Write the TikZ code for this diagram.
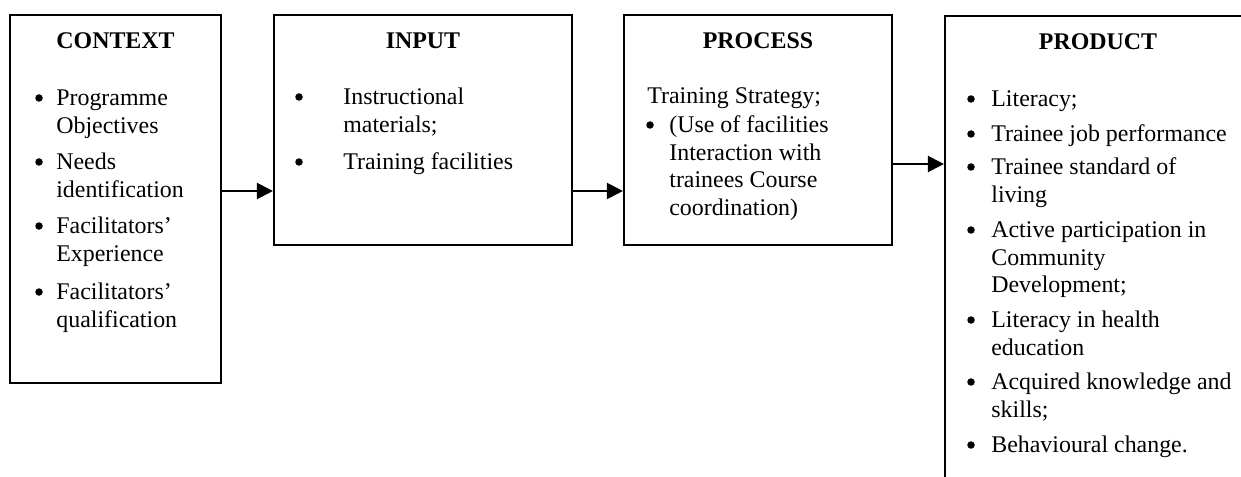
\documentclass[tikz,border=0pt]{standalone}
\usepackage{fontspec}
\setmainfont{Liberation Serif}
\usetikzlibrary{arrows.meta, positioning}

\begin{document}
\begin{tikzpicture}[
		x=0.2mm, y=-0.2mm,
		font=\fontsize{13.6}{15.7}\selectfont,
		box/.style={draw, rectangle, line width=1.2pt},
		title/.style={font=\fontsize{13.6}{15.7}\selectfont\bfseries, anchor=base, inner sep=0pt},
		item/.style={anchor=north west, align=left, inner sep=0pt},
		dot/.style={circle, fill, inner sep=0pt, minimum size=1.5mm},
		flow/.style={-{Triangle[length=3.2mm, width=3.2mm]}, line width=1.2pt},
		]
		
		\clip[use as bounding box] (0,0) rectangle (1241,477);
		
		% Boxes
		\node[box, minimum width=42.2mm, minimum height=73.6mm] (context) at (115.5,199) {};
		\node[box, minimum width=59.6mm, minimum height=46mm] (input) at (423,130) {};
		\node[box, minimum width=53.6mm, minimum height=46mm] (process) at (758,130) {};
		\node[box, minimum width=61.2mm, minimum height=96.8mm] (product) at (1098,258) {};
		
		% Titles
		\node[title] (contexttitle) at (context.north |- 0,49) {CONTEXT};
		\node[title] (inputtitle) at (input.north |- 0,49) {INPUT};
		\node[title] (processtitle) at (process.north |- 0,49) {PROCESS};
		\node[title] (producttitle) at (product.north |- 0,50) {PRODUCT};
		
		% Context items
		\foreach \txt/\yy [count=\i] in {{Programme\\Objectives}/86, {Needs\\identification}/150, {Facilitators'\\Experience}/214, {Facilitators'\\qualification}/280}{
			\node[item] (ctxitem\i) at (56,\yy) {\strut\txt};
			\node[dot] (ctxdot\i) at ([shift={(-17,12)}]ctxitem\i.north west) {};
		}
		
		% Input items
		\foreach \txt/\yy [count=\i] in {{Instructional\\materials;}/85, {Training facilities}/150}{
			\node[item] (initem\i) at (343,\yy) {\strut\txt};
			\node[dot] (indot\i) at ([shift={(-44,12)}]initem\i.north west) {};
		}
		
		% Process items
		\node[item] (procstrategy) at (647,84) {\strut Training Strategy;};
		\node[item] (procitem) at (669,113) {\strut(Use of facilities\\Interaction with\\trainees Course\\coordination)};
		\node[dot] (procdot) at ([shift={(-19,12)}]procitem.north west) {};
		
		% Product items
		\foreach \txt/\yy [count=\i] in {{Literacy;}/87, {Trainee job performance}/122, {Trainee standard of\\living}/155, {Active participation in\\Community\\Development;}/218, {Literacy in health\\education}/308, {Acquired knowledge and\\skills;}/370, {Behavioural change.}/433}{
			\node[item] (proditem\i) at (991,\yy) {\strut\txt};
			\node[dot] (proddot\i) at ([shift={(-20,12)}]proditem\i.north west) {};
		}
		
		% Arrows
		\coordinate (lowline) at (0,191);
		\coordinate (highline) at (0,164);
		\draw[flow] (context.east |- lowline) -- (input.west |- lowline);
		\draw[flow] (input.east |- lowline) -- (process.west |- lowline);
		\draw[flow] (process.east |- highline) -- (product.west |- highline);
		
	\end{tikzpicture}
\end{document}
